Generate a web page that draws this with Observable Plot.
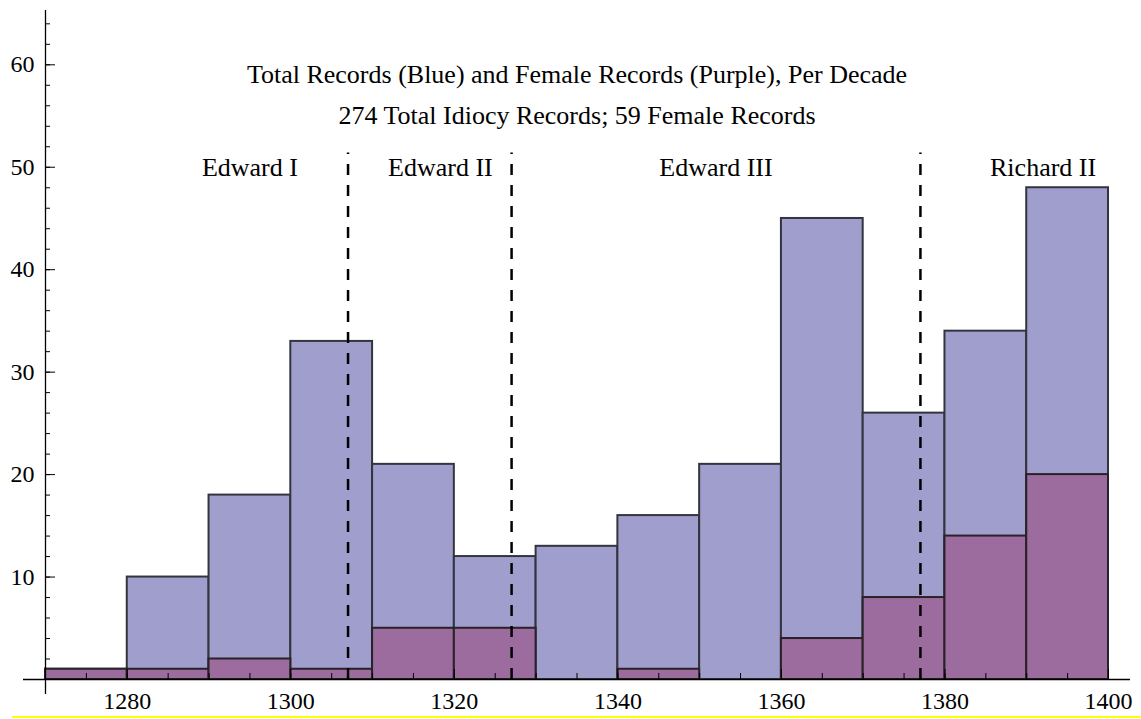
<!DOCTYPE html>
<html><head><meta charset="utf-8">
<script src="https://cdn.jsdelivr.net/npm/d3@7"></script>
<script src="https://cdn.jsdelivr.net/npm/@observablehq/plot@0.6"></script>
<style>
body{margin:0;background:#fff}
#wrap{position:relative;width:1141px;height:719px}
#hl{position:absolute;left:12px;right:0;top:716px;height:2px;background:#ffff00}
</style>
</head><body><div id="wrap"><div id="hl"></div></div>
<script>
const decades = [1270,1280,1290,1300,1310,1320,1330,1340,1350,1360,1370,1380,1390];
const totalRecords = [1,10,18,33,21,12,13,16,21,45,26,34,48];
const femaleRecords = [1,1,2,1,5,5,0,1,0,4,8,14,20];
const binWidth = 10;
const reignBoundaries = [1307,1327,1377];
const boundaryTop = 51.4;
const reignNames = ["Edward I","Edward II","Edward III","Richard II"];
const reignLabelX = [1295,1318.3,1352,1392];
const reignLabelY = 50;
const titleLines = ["Total Records (Blue) and Female Records (Purple), Per Decade","274 Total Idiocy Records; 59 Female Records"];
const xMajorTicks = [1280,1300,1320,1340,1360,1380,1400];
const xMinorTicks = d3.range(1270,1401,5);
const yMajorTicks = [10,20,30,40,50,60];
const yMinorTicks = d3.range(2,65,2);

const totals = decades.map((d,i)=>({start:d,end:d+binWidth,value:totalRecords[i]}));
const females = decades.map((d,i)=>({start:d,end:d+binWidth,value:femaleRecords[i]}));
const reigns = reignNames.map((n,i)=>({name:n,x:reignLabelX[i],y:reignLabelY}));

const font = "'Liberation Serif', 'Times New Roman', serif";
const chart = Plot.plot({
  width:1141, height:719,
  marginLeft:45, marginRight:33, marginTop:10, marginBottom:40,
  style:{fontFamily:font, fontSize:"24px", background:"#fff", overflow:"visible"},
  x:{domain:[1270,1400]},
  y:{domain:[0,65.3]},
  marks:[
    Plot.rectY(totals,{x1:"start",x2:"end",y:"value",fill:"#A09ECC",stroke:"#34343f",strokeWidth:2}),
    Plot.rectY(females,{x1:"start",x2:"end",y:"value",fill:"#9B6C9D",stroke:"#2a2228",strokeWidth:2}),
    Plot.ruleX(reignBoundaries,{y1:0,y2:boundaryTop,stroke:"#000",strokeWidth:2.5,strokeDasharray:"11,10"}),
    Plot.text(reigns,{x:"x",y:"y",text:"name",fontSize:26,fill:"#000"}),
    Plot.text([titleLines[0]],{frameAnchor:"top",lineAnchor:"middle",dy:64,fontSize:26,fill:"#000"}),
    Plot.text([titleLines[1]],{frameAnchor:"top",lineAnchor:"middle",dy:105,fontSize:26,fill:"#000"}),
    Plot.ruleY([0],{stroke:"#000",strokeWidth:1.3,insetLeft:-22,insetRight:-22}),
    Plot.ruleX([1270],{stroke:"#000",strokeWidth:1.3,insetBottom:-15}),
    Plot.axisX(xMajorTicks,{tickSize:-10,tickPadding:22,tickFormat:d=>String(d),label:null,fontSize:24,stroke:"#000"}),
    Plot.axisX(xMinorTicks,{tickSize:-6,tickFormat:()=>"",label:null,stroke:"#000"}),
    Plot.axisY(yMajorTicks,{tickSize:-10,tickPadding:21,label:null,fontSize:24,stroke:"#000"}),
    Plot.axisY(yMinorTicks,{tickSize:-5,tickFormat:()=>"",label:null,stroke:"#000"})
  ]
});
document.getElementById("wrap").prepend(chart);
</script>
</body></html>
